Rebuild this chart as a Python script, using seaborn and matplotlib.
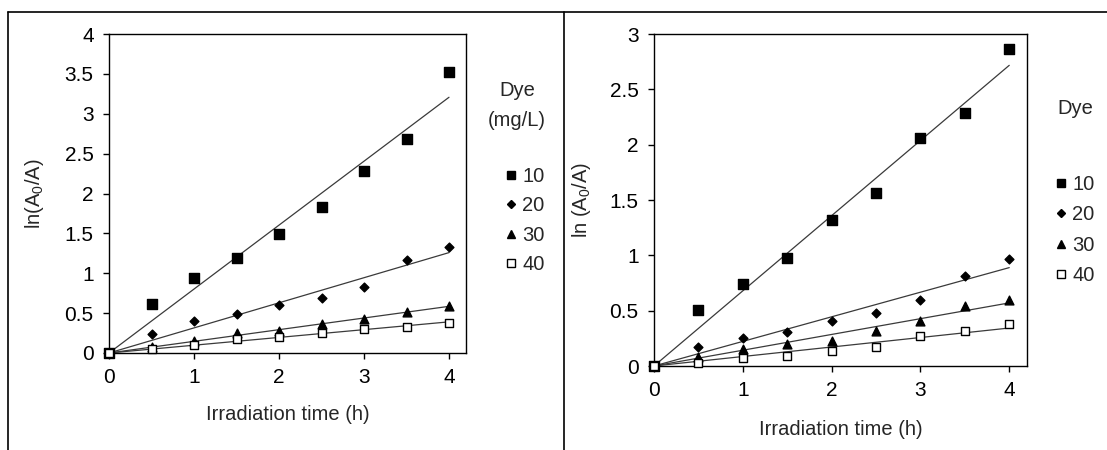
import numpy as np
import pandas as pd
import matplotlib
matplotlib.use("Agg")
import matplotlib.pyplot as plt
from matplotlib.lines import Line2D
import seaborn as sns

# ---------------- data ----------------
time_h = [0, 0.5, 1, 1.5, 2, 2.5, 3, 3.5, 4]
dye_levels = ["10", "20", "30", "40"]

left_10 = [0, 0.61, 0.94, 1.19, 1.49, 1.83, 2.28, 2.68, 3.52]
left_20 = [0, 0.24, 0.40, 0.49, 0.60, 0.69, 0.83, 1.16, 1.33]
left_30 = [0, 0.08, 0.15, 0.25, 0.28, 0.36, 0.43, 0.51, 0.59]
left_40 = [0, 0.05, 0.10, 0.17, 0.20, 0.25, 0.30, 0.33, 0.38]

right_10 = [0, 0.51, 0.74, 0.98, 1.32, 1.56, 2.06, 2.29, 2.86]
right_20 = [0, 0.17, 0.25, 0.31, 0.41, 0.48, 0.60, 0.81, 0.97]
right_30 = [0, 0.08, 0.15, 0.20, 0.23, 0.32, 0.41, 0.54, 0.60]
right_40 = [0, 0.03, 0.07, 0.09, 0.14, 0.17, 0.27, 0.32, 0.38]

left_yticks = [0, 0.5, 1, 1.5, 2, 2.5, 3, 3.5, 4]
left_yticklabels = ["0", "0.5", "1", "1.5", "2", "2.5", "3", "3.5", "4"]
right_yticks = [0, 0.5, 1, 1.5, 2, 2.5, 3]
right_yticklabels = ["0", "0.5", "1", "1.5", "2", "2.5", "3"]
xticks = [0, 1, 2, 3, 4]

# ---------------- style ----------------
sns.set_style("ticks")
plt.rcParams["font.family"] = ["Liberation Sans", "DejaVu Sans"]
plt.rcParams["mathtext.fontset"] = "custom"
plt.rcParams["mathtext.rm"] = "Liberation Sans"
plt.rcParams["mathtext.it"] = "Liberation Sans"

TICK_FS = 15
LAB_FS = 14.5
LEG_FS = 14.5

W, H = 1107, 450
fig = plt.figure(figsize=(W / 100, H / 100), dpi=100)
fig.patch.set_facecolor("white")

def px_axes(x0, y0, x1, y1):
    return fig.add_axes([x0 / W, 1 - y1 / H, (x1 - x0) / W, (y1 - y0) / H])

ax_l = px_axes(109, 34, 466, 353)
ax_r = px_axes(654, 34, 1027, 366)

marker_style = {
    "10": dict(marker="s", s=48, edgecolor="black", facecolor="black"),
    "20": dict(marker="D", s=20, edgecolor="black", facecolor="black"),
    "30": dict(marker="^", s=40, edgecolor="black", facecolor="black"),
    "40": dict(marker="s", s=36, edgecolor="black", facecolor="white"),
}

def draw_panel(ax, series, ylim, yticks, yticklabels, ylabel, ylab_x, xlab_y):
    t = np.array(time_h)
    # least-squares lines through the origin
    for lvl, vals in zip(dye_levels, series):
        v = np.array(vals)
        k = np.sum(t * v) / np.sum(t * t)
        sns.lineplot(x=t, y=k * t, ax=ax, color="#3a3a3a", lw=0.9, zorder=2)
    for lvl, vals in zip(dye_levels, series):
        st = marker_style[lvl]
        sns.scatterplot(x=time_h, y=vals, ax=ax, marker=st["marker"], s=st["s"],
                        facecolor=st["facecolor"], edgecolor=st["edgecolor"],
                        linewidth=1.0, zorder=3, clip_on=False)
    ax.set_xlim(0, 4.2)
    ax.set_ylim(*ylim)
    ax.set_xticks(xticks)
    ax.set_xticklabels([str(x) for x in xticks])
    ax.set_yticks(yticks)
    ax.set_yticklabels(yticklabels)
    ax.tick_params(axis="both", direction="out", length=4, width=1, pad=7,
                   labelsize=TICK_FS, colors="black")
    for sp in ax.spines.values():
        sp.set_visible(True)
        sp.set_color("black")
        sp.set_linewidth(1)
    ax.set_xlabel("Irradiation time (h)", fontsize=LAB_FS)
    ax.set_ylabel(ylabel, fontsize=LAB_FS)
    ax.yaxis.set_label_coords(ylab_x, 0.5)
    ax.xaxis.set_label_coords(0.5, xlab_y)
    ax.set_facecolor("white")
    ax.grid(False)
    leg = ax.get_legend()
    if leg is not None:
        leg.remove()

draw_panel(ax_l, [left_10, left_20, left_30, left_40], (0, 4),
           left_yticks, left_yticklabels, r"ln(A$_\mathregular{0}$/A)", -0.176, -0.163)
draw_panel(ax_r, [right_10, right_20, right_30, right_40], (0, 3),
           right_yticks, right_yticklabels, r"ln (A$_\mathregular{0}$/A)", -0.164, -0.163)

def legend_handles():
    hs = []
    spec = {"10": ("s", 6.0, "black"), "20": ("D", 4.2, "black"),
            "30": ("^", 6.0, "black"), "40": ("s", 6.0, "white")}
    for lvl in dye_levels:
        m, ms, fc = spec[lvl]
        hs.append(Line2D([], [], linestyle="none", marker=m, markersize=ms,
                         markerfacecolor=fc, markeredgecolor="black", markeredgewidth=1.0,
                         label=lvl))
    return hs

def place_legend(x_px, y_px, spacing):
    fig.legend(handles=legend_handles(), loc="upper left",
               bbox_to_anchor=(x_px / W, 1 - y_px / H), bbox_transform=fig.transFigure,
               frameon=False, fontsize=LEG_FS, handlelength=0.6, handletextpad=0.25,
               labelspacing=spacing, borderpad=0, borderaxespad=0)

place_legend(505, 167, 0.52)
place_legend(1055, 175, 0.57)

fig.text(517 / W, 1 - 91 / H, "Dye", ha="center", va="center", fontsize=LAB_FS)
fig.text(517 / W, 1 - 120 / H, "(mg/L)", ha="center", va="center", fontsize=LAB_FS)
fig.text(1075 / W, 1 - 109 / H, "Dye", ha="center", va="center", fontsize=LAB_FS)

# outer frame lines
for (x0, y0, x1, y1) in [(8, 12, W, 12), (8, 12, 8, H), (564, 12, 564, H)]:
    fig.add_artist(Line2D([x0 / W, x1 / W], [1 - y0 / H, 1 - y1 / H],
                          transform=fig.transFigure, color="black", lw=1.2))

fig.savefig("out.png", dpi=100, facecolor="white")
